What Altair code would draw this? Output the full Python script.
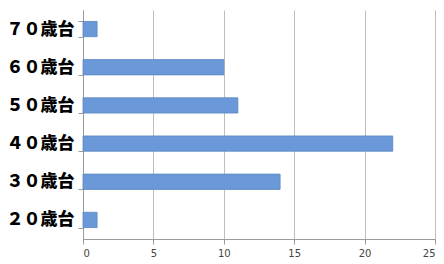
import altair as alt
import pandas as pd

categories = ["７０歳台", "６０歳台", "５０歳台", "４０歳台", "３０歳台", "２０歳台"]
values = [1, 10, 11, 22, 14, 1]
x_ticks = [0, 5, 10, 15, 20, 25]

df = pd.DataFrame({"cat": categories, "val": values})

chart = alt.Chart(df).mark_bar(
    color="#6A98D8", stroke="#5A86C2", strokeWidth=0.8
).encode(
    x=alt.X("val:Q", scale=alt.Scale(domain=[0, 25], nice=False),
            axis=alt.Axis(values=x_ticks, title=None, grid=True, gridColor="#BEBEBE",
                          domainColor="#9A9A9A", tickColor="#9A9A9A", tickSize=5,
                          labelFont="DejaVu Sans", labelFontSize=10, labelColor="#444444",
                          labelPadding=4)),
    y=alt.Y("cat:N", sort=categories,
            scale=alt.Scale(paddingInner=0.6, paddingOuter=0.3),
            axis=alt.Axis(title=None, domainColor="#9A9A9A", tickColor="#9A9A9A",
                          tickBand="extent", tickSize=5,
                          labelFont="Noto Sans CJK JP", labelFontWeight=900,
                          labelFontSize=17, labelColor="#000000", labelPadding=4)),
).properties(
    width=352, height=229,
    autosize=alt.AutoSizeParams(type="none"),
    padding={"left": 83, "top": 10, "right": 9, "bottom": 25},
).configure_view(stroke=None)

chart.save("out.html", embed_options={"renderer": "svg", "actions": False})
